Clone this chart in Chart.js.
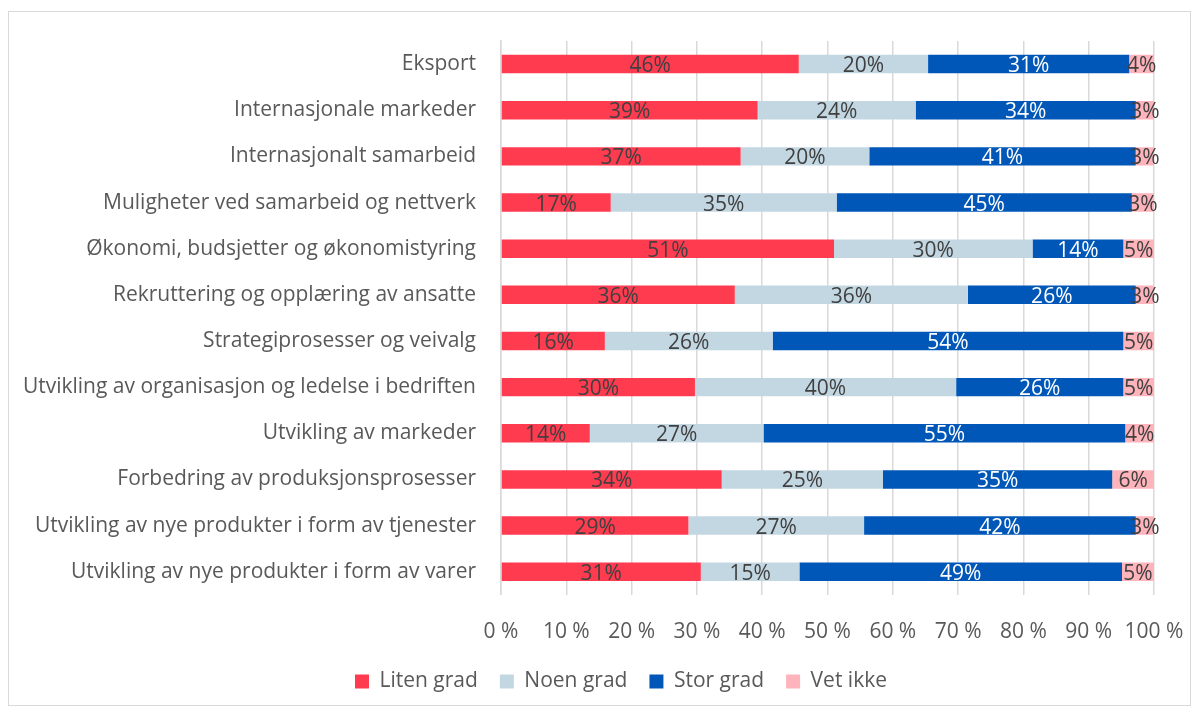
<!DOCTYPE html>
<html>
<head>
<meta charset="utf-8">
<script src="https://cdn.jsdelivr.net/npm/chart.js@4.4.1/dist/chart.umd.min.js"></script>
<style>
html,body{margin:0;padding:0;background:#fff;}
#wrap{position:absolute;left:0;top:0;width:1199px;height:711px;}
#frame{position:absolute;left:8px;top:11px;width:1181px;height:693px;border:1px solid #d9d9d9;pointer-events:none;}
canvas{position:absolute;left:0;top:0;}
</style>
</head>
<body>
<div id="wrap">
<canvas id="c" width="1199" height="711"></canvas>
<div id="frame"></div>
</div>
<script>
const categories = [
  "Eksport",
  "Internasjonale markeder",
  "Internasjonalt samarbeid",
  "Muligheter ved samarbeid og nettverk",
  "Økonomi, budsjetter og økonomistyring",
  "Rekruttering og opplæring av ansatte",
  "Strategiprosesser og veivalg",
  "Utvikling av organisasjon og ledelse i bedriften",
  "Utvikling av markeder",
  "Forbedring av produksjonsprosesser",
  "Utvikling av nye produkter i form av tjenester",
  "Utvikling av nye produkter i form av varer"
];
const seriesNames = ["Liten grad", "Noen grad", "Stor grad", "Vet ikke"];
const litenGrad = [45.6, 39.3, 36.7, 16.8, 51.0, 35.8, 15.9, 29.7, 13.6, 33.8, 28.7, 30.6];
const noenGrad  = [19.8, 24.2, 19.7, 34.6, 30.4, 35.7, 25.7, 40.0, 26.6, 24.7, 26.9, 15.1];
const storGrad  = [30.8, 33.7, 40.8, 45.2, 13.9, 25.7, 53.7, 25.6, 55.4, 35.1, 41.6, 49.4];
const vetIkke   = [3.8, 2.8, 2.8, 3.4, 4.7, 2.8, 4.7, 4.7, 4.4, 6.4, 2.8, 4.9];
const xTickValues = [0, 10, 20, 30, 40, 50, 60, 70, 80, 90, 100];

const colors = ["#FF3B50", "#C3D7E3", "#0057B8", "#FFB3BA"];
const labelColors = ["#404040", "#404040", "#ffffff", "#404040"];
const FONT = "'Open Sans', sans-serif";
const FS = 21;

const valueLabels = {
  id: 'valueLabels',
  afterDatasetsDraw(chart) {
    const ctx = chart.ctx;
    ctx.save();
    ctx.font = FS + "px " + FONT;
    ctx.textAlign = 'center';
    ctx.textBaseline = 'middle';
    chart.data.datasets.forEach((ds, di) => {
      const meta = chart.getDatasetMeta(di);
      meta.data.forEach((el, i) => {
        const cx = (el.x + el.base) / 2;
        ctx.fillStyle = labelColors[di];
        ctx.fillText(Math.round(ds.data[i]) + "%", cx, el.y + 2);
      });
    });
    ctx.restore();
  }
};

// place legend like the original (shifted right, fixed vertical position)
const legendPlacer = {
  id: 'legendPlacer',
  afterLayout(chart) {
    const lg = chart.legend;
    if (!lg) return;
    const shift = 44;
    const h = lg.height;
    lg.left += shift; lg.right += shift;
    lg.top = 649; lg.bottom = 649 + h;
  }
};

const data = [litenGrad, noenGrad, storGrad, vetIkke];
new Chart(document.getElementById('c'), {
  type: 'bar',
  data: {
    labels: categories,
    datasets: seriesNames.map((n, i) => ({
      label: n,
      data: data[i],
      backgroundColor: colors[i],
      borderWidth: 0,
      barPercentage: 0.4,
      categoryPercentage: 1.0
    }))
  },
  options: {
    indexAxis: 'y',
    responsive: false,
    animation: false,
    layout: { padding: { left: 0, right: 45, top: 41, bottom: -12 } },
    plugins: {
      legend: {
        position: 'bottom',
        labels: {
          color: '#595959',
          font: { size: FS, family: FONT },
          boxWidth: 14, boxHeight: 14,
          padding: 22
        }
      },
      tooltip: { enabled: false }
    },
    scales: {
      x: {
        stacked: true,
        min: 0, max: 100,
        afterBuildTicks(scale) { scale.ticks = xTickValues.map(v => ({ value: v })); },
        afterFit(scale) { scale.paddingLeft = 0; scale.paddingRight = 0; },
        ticks: {
          color: '#595959',
          font: { size: FS, family: FONT },
          padding: 25,
          maxRotation: 0,
          autoSkip: false,
          callback: (v) => v + " %"
        },
        grid: { color: '#d9d9d9', lineWidth: 1.5, drawTicks: false },
        border: { display: false }
      },
      y: {
        stacked: true,
        afterFit(scale) { scale.width = 501; },
        ticks: {
          color: '#595959',
          font: { size: FS, family: FONT },
          padding: 25
        },
        grid: { display: false, drawTicks: false },
        border: { display: true, color: '#d9d9d9', width: 1.5 }
      }
    }
  },
  plugins: [valueLabels, legendPlacer]
});
</script>
</body>
</html>
